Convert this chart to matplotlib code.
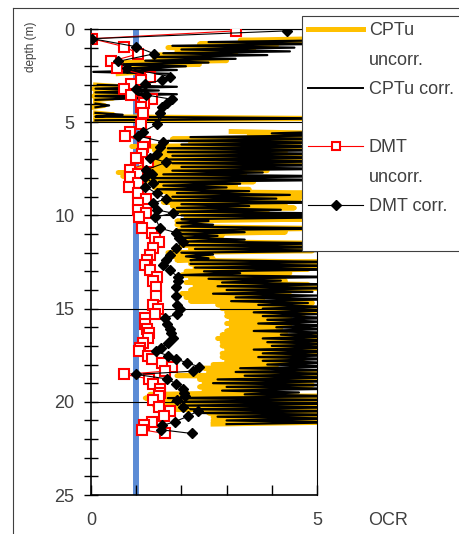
import numpy as np
import matplotlib.pyplot as plt
from matplotlib.lines import Line2D

plt.rcParams['font.family'] = ['Liberation Sans', 'DejaVu Sans']

# CPTu readings every 0.1 m, first reading at 0.5 m (nan = no reading)
cpt_top = 0.5
cpt_step = 0.1
cpt_uncorr = [
    5.4, 3.3, 5.3, 2.4, 4.1, 1.7, 3.6, 1.9, 3.2, 1.5,
    2.6, 1.4, 3.0, 0.7, 2.4, 0.8, 1.5, 0.9, 1.2, 0.6,
    np.nan, np.nan, np.nan, np.nan, np.nan, 0.1, 0.7, 0.05, 0.6, 0.1,
    0.7, 0.05, 0.5, 0.1, np.nan, 0.1, 0.3, 0.05, np.nan, np.nan,
    0.1, 0.5, 0.1, 5.3, 0.1, np.nan, np.nan, np.nan, np.nan, np.nan,
    3.1, 5.3, 3.5, 5.2, 1.8, 5.3, 2.2, 4.6, 0.9, 5.2,
    1.4, 4.3, 1.6, 5.2, 1.5, 4.8, 1.1, 5.2, 1.3, 3.6,
    0.8, 3.9, 0.6, 3.4, 0.7, 2.9, 1.2, 3.6, 1.4, 3.2,
    1.4, 3.5, 1.6, 5.2, 1.7, 5.2, 1.8, 4.6, 1.6, 4.3,
    1.8, 4.5, 1.9, 3.9, 2.0, 5.2, 2.1, 4.9, 1.9, 2.3,
    1.9, 2.2, 5.2, 1.9, 4.3, 2.0, 2.9, 2.0, 2.6, 2.1,
    5.3, 2.0, 5.2, 2.2, 4.9, 1.7, 2.6, 1.8, 2.7, 1.9,
    5.2, 2.2, 5.3, 2.3, 4.8, 2.1, 4.4, 2.0, 3.9, 2.2,
    4.3, 2.1, 4.8, 2.3, 5.2, 2.2, 4.4, 2.0, 4.1, 2.1,
    3.8, 2.2, 4.9, 2.8, 4.6, 2.9, 5.1, 3.0, 4.7, 3.0,
    4.4, 3.1, 4.6, 3.0, 4.4, 3.1, 4.2, 3.0, 4.3, 2.9,
    5.1, 2.8, 5.2, 2.9, 4.9, 2.9, 5.2, 3.0, 5.0, 2.9,
    4.7, 2.9, 4.7, 3.0, 4.5, 2.7, 4.1, 2.5, 3.9, 2.6,
    5.2, 1.9, 5.1, 2.4, 4.6, 2.5, 4.9, 2.4, 4.0, 2.5,
    3.8, 1.3, 5.2, 1.2, 4.8, 1.5, 5.2, 1.4, 5.1, 1.6,
    4.9, 2.6, 5.2, 2.7, 5.1, 2.7, 5.2, 2.7,
]
cpt_corr = [
    5.6, 5.5, 2.6, 5.2, 1.8, 4.5, 2.0, 4.4, 1.6, 3.9,
    1.4, 3.2, 1.2, 2.6, 0.5, 2.1, 0.9, 1.9, 0.05, 1.7,
    np.nan, np.nan, np.nan, np.nan, np.nan, 0.15, 1.9, 0.1, 1.5, 0.1,
    1.9, 0.1, 1.2, 0.1, np.nan, 0.1, 0.4, 0.1, np.nan, np.nan,
    0.1, 0.7, 0.1, 5.5, 0.1, np.nan, np.nan, np.nan, np.nan, np.nan,
    5.4, 4.0, 5.5, 2.2, 5.5, 1.7, 5.5, 2.0, 5.5, 1.7,
    5.5, 1.7, 5.5, 1.8, 5.5, 1.7, 5.5, 1.8, 5.5, 2.0,
    5.4, 1.8, 3.8, 1.6, 5.5, 1.4, 5.5, 1.5, 3.3, 1.6,
    3.0, 1.5, 3.5, 1.9, 4.4, 1.8, 4.1, 1.7, 5.5, 2.0,
    3.5, 1.9, 4.2, 1.9, 5.5, 2.0, 5.5, 2.0, 2.6, 1.9,
    2.7, 2.0, 5.5, 1.9, 3.4, 1.9, 2.8, 2.0, 3.4, 2.1,
    5.5, 2.1, 5.5, 2.3, 5.5, 2.0, 2.7, 2.1, 2.6, 2.2,
    5.5, 2.2, 5.5, 2.3, 5.5, 2.5, 3.3, 2.0, 5.5, 2.6,
    4.2, 2.9, 5.3, 2.8, 5.5, 3.0, 4.9, 2.7, 5.0, 3.2,
    5.5, 3.1, 4.8, 3.7, 5.2, 3.8, 5.5, 3.6, 5.0, 3.8,
    5.5, 3.9, 5.1, 3.7, 5.4, 4.1, 5.3, 3.6, 5.5, 4.2,
    5.2, 3.8, 5.5, 3.9, 5.4, 4.0, 5.5, 3.6, 5.3, 3.8,
    5.5, 3.7, 5.4, 3.8, 5.2, 3.9, 5.5, 3.3, 5.3, 3.2,
    5.5, 3.4, 5.4, 2.8, 5.5, 2.7, 5.3, 3.0, 5.4, 2.9,
    4.6, 3.4, 5.5, 1.7, 5.4, 1.8, 5.5, 2.1, 5.5, 2.2,
    5.5, 2.4, 5.5, 2.8, 5.4, 3.0, 5.5, 3.0,
]

# DMT soundings
dmt_depth = [
    0.1, 0.52, 0.95, 1.33, 1.74, 2.08, 2.55, 2.74, 2.95, 3.24,
    3.54, 3.77, 3.97, 4.2, 4.5, 5.11, 5.5, 5.73, 6.05, 6.35,
    6.7, 6.9, 7.15, 7.55, 7.78, 7.95, 8.28, 8.45, 8.82, 9.1,
    9.35, 9.7, 9.88, 10.1, 10.69, 10.93, 11.23, 11.41, 11.77, 12.12,
    12.39, 12.66, 12.95, 13.3, 13.5, 13.85, 14.3, 14.8, 15.0, 15.3,
    15.5, 15.8, 16.1, 16.3, 16.6, 16.85, 17.13, 17.3, 17.52, 17.68,
    17.92, 18.12, 18.36, 18.53, 18.77, 19.03, 19.3, 19.55, 19.7, 19.9,
    20.26, 20.5, 20.78, 21.07, 21.27, 21.5, 21.7,
]
dmt_uncorr = [
    3.2, 0.02, 0.74, 1.05, 0.44, 0.58, 1.30, 1.11, 0.89, 0.74,
    0.89, 1.34, 1.18, 1.10, 1.15, 1.10, 0.87, 0.76, 1.20, 1.14,
    1.12, 1.00, 1.27, 0.87, 1.03, 0.86, 1.03, 0.83, 1.03, 1.21,
    1.03, 1.05, 1.22, 1.07, 1.13, 1.35, 1.42, 1.51, 1.38, 1.31,
    1.25, 1.19, 1.30, 1.47, 1.37, 1.43, 1.43, 1.37, 1.48, 1.42,
    1.20, 1.20, 1.25, 1.29, 1.26, 1.15, 1.08, 1.07, 1.27, 1.35,
    1.58, 1.79, 1.63, 0.73, 1.29, 1.38, 1.53, 1.52, 1.50, 1.37,
    1.50, 1.75, 1.61, 1.35, 1.17, 1.12, 1.64,
]
dmt_corr = [
    4.33, 0.03, 1.00, 1.40, 0.59, 0.79, 1.74, 1.57, 1.20, 1.00,
    1.22, 1.79, 1.68, 1.57, 1.52, 1.47, 1.15, 1.03, 1.59, 1.53,
    1.45, 1.30, 1.67, 1.22, 1.35, 1.20, 1.37, 1.20, 1.45, 1.67,
    1.37, 1.45, 1.81, 1.41, 1.53, 1.89, 1.95, 2.04, 1.88, 1.75,
    1.65, 1.60, 1.74, 1.93, 1.92, 1.88, 1.87, 1.90, 1.96, 1.91,
    1.63, 1.68, 1.74, 1.77, 1.81, 1.70, 1.55, 1.44, 1.70, 1.87,
    2.13, 2.40, 2.25, 0.99, 1.68, 1.88, 2.04, 2.06, 2.07, 1.90,
    2.04, 2.36, 2.14, 1.85, 1.58, 1.55, 2.23,
]

ocr_ref = 1.0
y_major = [0, 5, 10, 15, 20, 25]
x_ticks = [0, 1, 2, 3, 4, 5]
x_ticklabels = ['0', '', '', '', '', '5']
legend_labels = ['CPTu', 'uncorr.', 'CPTu corr.', '', 'DMT', 'uncorr.', 'DMT corr.', '']

txt = '#404040'
yellow = '#FFC000'
blue = '#5B8BD5'

depth_u = cpt_top + cpt_step * np.arange(len(cpt_uncorr))
depth_c = cpt_top + cpt_step * np.arange(len(cpt_corr))

fig = plt.figure(figsize=(4.6, 5.34), dpi=100)
ax = fig.add_axes([91 / 460, 1 - 495 / 534, 226 / 460, 466 / 534])

ax.axvline(ocr_ref, color=blue, lw=4.3, zorder=1)
ax.plot(cpt_uncorr, depth_u, color=yellow, lw=3.5, zorder=2)
ax.plot(cpt_corr, depth_c, color='black', lw=1.6, zorder=3)
ax.plot(dmt_uncorr, dmt_depth, color='red', lw=0.8, marker='s', ms=6.5,
        mfc='white', mec='red', mew=1.5, zorder=4)
ax.plot(dmt_corr, dmt_depth, color='black', lw=0.8, marker='D', ms=5.5, zorder=5)

ax.set_xlim(0, 5)
ax.set_ylim(25, 0)
ax.set_yticks(y_major)
ax.set_yticks(range(26), minor=True)
ax.set_xticks(x_ticks)
ax.set_xticklabels(x_ticklabels)
ax.yaxis.grid(True, which='major', color='black', lw=0.8)
ax.set_axisbelow(False)

ax.tick_params(axis='y', which='both', direction='inout', length=10, width=1,
               labelsize=13, labelcolor=txt, pad=7)
ax.tick_params(axis='x', direction='in', length=7, width=1,
               labelsize=13, labelcolor=txt, pad=12)
for s in ax.spines.values():
    s.set_linewidth(0.8)
ax.spines['left'].set_linewidth(1.2)
ax.spines['bottom'].set_linewidth(1.2)

ax.set_ylabel('depth (m)', fontsize=8.5, color=txt)
ax.yaxis.set_label_coords(-0.239, 0.961)
ax.set_xlabel('OCR', fontsize=13, color=txt)
ax.xaxis.label.set_va('center')
ax.xaxis.set_label_coords(1.314, -0.054)

# outer chart frame (runs off the right and bottom of the picture)
fig.add_artist(Line2D([13 / 460, 13 / 460], [0, 1 - 8 / 534],
                      transform=fig.transFigure, color=txt, lw=0.8))
fig.add_artist(Line2D([13 / 460, 1], [1 - 8 / 534, 1 - 8 / 534],
                      transform=fig.transFigure, color=txt, lw=0.8))

blank = Line2D([], [], color='none')
handles = [
    Line2D([], [], color=yellow, lw=3.6), blank,
    Line2D([], [], color='black', lw=1.4), blank,
    Line2D([], [], color='red', lw=0.8, marker='s', ms=6, mfc='white', mec='red', mew=1.5), blank,
    Line2D([], [], color='black', lw=0.8, marker='D', ms=5), blank,
]
leg = fig.legend(handles, legend_labels, loc='upper left',
                 bbox_to_anchor=(302 / 460, 1 - 16 / 534), bbox_transform=fig.transFigure,
                 frameon=True, fancybox=False, edgecolor=txt, framealpha=1,
                 fontsize=13, labelcolor=txt, handlelength=3.05, handletextpad=0.3,
                 borderpad=0.35, labelspacing=0.68, borderaxespad=0)
leg.get_frame().set_linewidth(0.8)

fig.savefig('out.png', dpi=100)
